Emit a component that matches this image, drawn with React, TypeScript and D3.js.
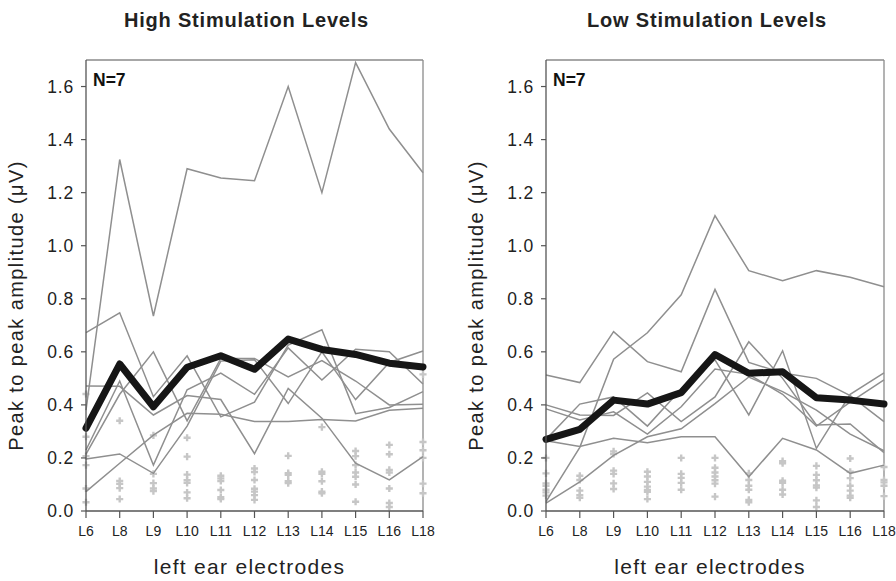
import React from "react";
import * as d3 from "d3";

const electrodes = ["L6", "L8", "L9", "L10", "L11", "L12", "L13", "L14", "L15", "L16", "L18"];
const yTicks = [0, 0.2, 0.4, 0.6, 0.8, 1.0, 1.2, 1.4, 1.6];

// High stimulation: individual subjects
const highS1 = [0.38, 1.325, 0.735, 1.29, 1.255, 1.245, 1.6, 1.2, 1.69, 1.44, 1.275];
const highS2 = [0.672, 0.747, 0.431, 0.585, 0.355, 0.41, 0.625, 0.683, 0.367, 0.39, 0.45];
const highS3 = [0.471, 0.47, 0.362, 0.435, 0.42, 0.216, 0.462, 0.35, 0.18, 0.117, 0.205];
const highS4 = [0.23, 0.49, 0.173, 0.457, 0.52, 0.44, 0.615, 0.494, 0.61, 0.6, 0.479];
const highS5 = [0.214, 0.44, 0.6, 0.34, 0.575, 0.575, 0.505, 0.567, 0.49, 0.4, 0.402];
const highS6 = [0.196, 0.215, 0.142, 0.32, 0.565, 0.57, 0.405, 0.6, 0.42, 0.56, 0.603];
const highS7 = [0.073, 0.18, 0.286, 0.368, 0.365, 0.337, 0.337, 0.345, 0.339, 0.38, 0.387];
const highMean = [0.312, 0.554, 0.393, 0.542, 0.585, 0.534, 0.648, 0.609, 0.59, 0.557, 0.543];
const highNoise = [
  [0.441, 0.28, 0.207, 0.173, 0.085, 0.033],
  [0.34, 0.113, 0.102, 0.086, 0.045],
  [0.285, 0.14, 0.105, 0.085, 0.075],
  [0.276, 0.205, 0.137, 0.116, 0.106, 0.07, 0.048],
  [0.133, 0.123, 0.113, 0.079, 0.052, 0.045],
  [0.16, 0.147, 0.117, 0.084, 0.073, 0.06, 0.042],
  [0.208, 0.143, 0.136, 0.112, 0.105],
  [0.316, 0.148, 0.14, 0.112, 0.073, 0.067],
  [0.226, 0.207, 0.173, 0.145, 0.129, 0.1, 0.035],
  [0.249, 0.214, 0.155, 0.145, 0.085, 0.03, 0.015],
  [0.515, 0.26, 0.229, 0.2, 0.103, 0.067],
];

// Low stimulation: individual subjects
const lowS1 = [0.035, 0.24, 0.572, 0.672, 0.815, 1.113, 0.906, 0.868, 0.906, 0.881, 0.845];
const lowS2 = [0.513, 0.484, 0.676, 0.563, 0.525, 0.835, 0.56, 0.52, 0.5, 0.435, 0.337];
const lowS3 = [0.4, 0.362, 0.36, 0.445, 0.337, 0.43, 0.638, 0.5, 0.324, 0.328, 0.22];
const lowS4 = [0.385, 0.343, 0.374, 0.29, 0.393, 0.535, 0.515, 0.44, 0.32, 0.41, 0.494];
const lowS5 = [0.265, 0.243, 0.274, 0.257, 0.28, 0.28, 0.129, 0.274, 0.23, 0.142, 0.173];
const lowS6 = [0.27, 0.403, 0.43, 0.32, 0.46, 0.57, 0.362, 0.604, 0.236, 0.44, 0.521];
const lowS7 = [0.03, 0.11, 0.21, 0.28, 0.31, 0.405, 0.505, 0.45, 0.38, 0.29, 0.227];
const lowMean = [0.27, 0.308, 0.418, 0.403, 0.446, 0.59, 0.519, 0.525, 0.427, 0.418, 0.403];
const lowNoise = [
  [0.2, 0.142, 0.104, 0.095, 0.08, 0.07, 0.058],
  [0.133, 0.117, 0.077, 0.06, 0.05],
  [0.225, 0.215, 0.152, 0.14, 0.104, 0.083],
  [0.148, 0.13, 0.11, 0.092, 0.079, 0.072, 0.045],
  [0.2, 0.14, 0.125, 0.106, 0.08],
  [0.2, 0.163, 0.145, 0.13, 0.116, 0.103, 0.054],
  [0.142, 0.117, 0.095, 0.08, 0.042, 0.033],
  [0.188, 0.18, 0.114, 0.106, 0.08, 0.062],
  [0.17, 0.136, 0.116, 0.096, 0.088, 0.04, 0.015],
  [0.198, 0.148, 0.124, 0.095, 0.077, 0.058, 0.05],
  [0.166, 0.117, 0.108, 0.095, 0.056],
];

const FONT = "'Liberation Sans', Arial, sans-serif";

type PanelProps = {
  title: string;
  x0: number;
  x1: number;
  subjects: number[][];
  mean: number[];
  noise: number[][];
};

function Panel({ title, x0, x1, subjects, mean, noise }: PanelProps) {
  const top = 60;
  const bottom = 511;
  const x = d3.scalePoint<string>().domain(electrodes).range([x0, x1]);
  const y = d3.scaleLinear().domain([0, 1.7]).range([bottom, top]);
  const line = d3
    .line<number>()
    .x((_, i) => x(electrodes[i]) as number)
    .y((d) => y(d));
  const cross = d3.symbol().type(d3.symbolCross).size(28)() as string;
  const fmt = d3.format(".1f");
  const cx = (x0 + x1) / 2;
  return (
    <g>
      <text x={cx - 8} y={27} textAnchor="middle" fontFamily={FONT} fontWeight="bold" fontSize={20} letterSpacing={0.8} fill="#222">
        {title}
      </text>
      {/* frame */}
      <line x1={x0} x2={x1} y1={top} y2={top} stroke="#8a8a8a" strokeWidth={1.3} />
      <line x1={x1} x2={x1} y1={top} y2={bottom} stroke="#8a8a8a" strokeWidth={1.3} />
      {/* noise markers */}
      {noise.map((vals, i) =>
        vals.map((v, j) => (
          <path key={`n${i}-${j}`} d={cross} transform={`translate(${x(electrodes[i])},${y(v)})`} fill="#c6c6c6" />
        ))
      )}
      {/* individual subjects */}
      {subjects.map((s, k) => (
        <path key={`s${k}`} d={line(s) as string} fill="none" stroke="#8f8f8f" strokeWidth={1.5} />
      ))}
      {/* mean */}
      <path d={line(mean) as string} fill="none" stroke="#161616" strokeWidth={7} strokeLinejoin="round" strokeLinecap="round" />
      {/* axes */}
      <line x1={x0} x2={x0} y1={top} y2={bottom} stroke="#555" strokeWidth={1.3} />
      <line x1={x0} x2={x1} y1={bottom} y2={bottom} stroke="#555" strokeWidth={1.3} />
      {yTicks.map((t) => (
        <g key={`yt${t}`}>
          <line x1={x0 - 5} x2={x0} y1={y(t)} y2={y(t)} stroke="#555" strokeWidth={1.2} />
          <text x={x0 - 12} y={y(t)} dy="0.36em" textAnchor="end" fontFamily={FONT} fontSize={17.5} letterSpacing={0.8} fill="#222">
            {fmt(t)}
          </text>
        </g>
      ))}
      {electrodes.map((e) => (
        <g key={`xt${e}`}>
          <line x1={x(e)} x2={x(e)} y1={bottom} y2={bottom + 7} stroke="#555" strokeWidth={1.2} />
          <text x={x(e)} y={bottom + 25} textAnchor="middle" fontFamily={FONT} fontSize={14} fill="#222">
            {e}
          </text>
        </g>
      ))}
      <text x={x0 + 7} y={86} fontFamily={FONT} fontWeight="bold" fontSize={17.5} fill="#111">
        N=7
      </text>
      <text x={cx - 5} y={574} textAnchor="middle" fontFamily={FONT} fontSize={21} letterSpacing={1.3} fill="#222">
        left ear electrodes
      </text>
      <text
        transform={`translate(${x0 - 63},${(top + bottom) / 2 + 20}) rotate(-90)`}
        textAnchor="middle"
        fontFamily={FONT}
        fontSize={20}
        letterSpacing={1.4}
        fill="#222"
      >
        Peak to peak amplitude (μV)
      </text>
    </g>
  );
}

export default function App() {
  return (
    <svg width={896} height={581} style={{ position: "absolute", left: 0, top: 0, background: "#fff" }}>
      <rect width={896} height={581} fill="#fff" />
      <Panel
        title="High Stimulation Levels"
        x0={86}
        x1={423}
        subjects={[highS1, highS2, highS3, highS4, highS5, highS6, highS7]}
        mean={highMean}
        noise={highNoise}
      />
      <Panel
        title="Low Stimulation Levels"
        x0={546}
        x1={884}
        subjects={[lowS1, lowS2, lowS3, lowS4, lowS5, lowS6, lowS7]}
        mean={lowMean}
        noise={lowNoise}
      />
    </svg>
  );
}
